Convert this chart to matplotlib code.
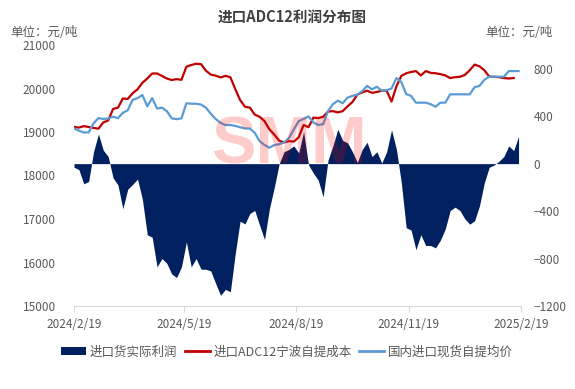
import matplotlib
matplotlib.use("Agg")
import matplotlib.pyplot as plt
import matplotlib.dates as mdates
from matplotlib.patches import Patch
from matplotlib.lines import Line2D
import numpy as np
import pandas as pd

plt.rcParams['font.family'] = ['Noto Sans CJK SC', 'DejaVu Sans']

dates = pd.date_range('2024-02-19', periods=92, freq='4D')

profit = [-30, -50, -170, -150, 100, 250, 113, 60, -120, -180,
          -380, -215, -175, -130, -300, -600, -620, -870, -800, -840,
          -930, -960, -870, -660, -870, -800, -890, -890, -905, -1010,
          -1110, -1060, -1080, -760, -485, -508, -420, -395, -520, -640,
          -380, -200, 0, 100, 120, 150, 90, 270, -10, -80,
          -140, -280, 30, 150, 290, 195, 175, 100, 10, 120,
          180, 60, 100, 5, 100, 285, 120, -160, -540, -560,
          -725, -600, -690, -690, -710, -645, -550, -395, -367, -395,
          -465, -510, -482, -355, -160, -30, -12, 20, 60, 150,
          110, 230]

cost = [19120, 19100, 19135, 19115, 19095, 19075, 19220, 19265, 19530, 19560,
        19770, 19760, 19890, 19980, 20130, 20230, 20345, 20345, 20290, 20230,
        20195, 20215, 20200, 20500, 20540, 20570, 20560, 20410, 20320, 20295,
        20255, 20290, 20260, 19990, 19735, 19580, 19560, 19400, 19350, 19250,
        19060, 18940, 18800, 18760, 18790, 18780, 18880, 19160, 19110, 19330,
        19320, 19350, 19470, 19480, 19450, 19480, 19590, 19690, 19860, 19910,
        19950, 19900, 19920, 19950, 19950, 19700, 20050, 20290, 20350, 20380,
        20400, 20300, 20400, 20360, 20350, 20330, 20300, 20240, 20260, 20270,
        20310, 20420, 20550, 20510, 20420, 20272, 20270, 20260, 20240, 20230,
        20240, np.nan]

spot = [19085, 19030, 18990, 18990, 19200, 19320, 19300, 19310, 19350, 19320,
        19440, 19500, 19740, 19780, 19850, 19590, 19780, 19540, 19560, 19480,
        19314, 19295, 19314, 19660, 19650, 19650, 19630, 19560, 19420, 19300,
        19210, 19160, 19160, 19140, 19110, 19080, 19080, 18980, 18790, 18700,
        18640, 18700, 18720, 18760, 18860, 19060, 19250, 19300, 19360, 19220,
        19160, 19180, 19480, 19640, 19720, 19660, 19790, 19830, 19860, 19940,
        20060, 19980, 20040, 19950, 19960, 20000, 20240, 20150, 19870, 19830,
        19674, 19674, 19674, 19640, 19582, 19674, 19674, 19866, 19866, 19866,
        19866, 19866, 20030, 20060, 20200, 20272, 20272, 20272, 20272, 20400,
        20400, 20400]

xtick_dates = ['2024-02-19', '2024-05-19', '2024-08-19', '2024-11-19', '2025-02-19']
xtick_labels = ['2024/2/19', '2024/5/19', '2024/8/19', '2024/11/19', '2025/2/19']
left_ticks = [15000, 16000, 17000, 18000, 19000, 20000, 21000]
right_ticks = [-1200, -800, -400, 0, 400, 800]

series_names = ['进口货实际利润', '进口ADC12宁波自提成本', '国内进口现货自提均价']
title = '进口ADC12利润分布图'
unit = '单位：元/吨'

c_area = '#002060'
c_red = '#C00000'
c_blue = '#5B9BD5'
c_text = '#595959'

fig = plt.figure(figsize=(5.75, 3.89), dpi=100)
ax = fig.add_axes([74/575, 1-306/389, (521-74)/575, (306-45)/389])
ax2 = ax.twinx()

ax2.fill_between(dates, 0, profit, color=c_area, linewidth=0)
ax.plot(dates, cost, color=c_red, lw=1.6)
ax.plot(dates, spot, color=c_blue, lw=1.6)

ax.set_zorder(ax2.get_zorder() + 1)
ax.patch.set_visible(False)

ax.set_ylim(15000, 21000)
ax2.set_ylim(-1200, 1000)
ax.set_yticks(left_ticks)
ax2.set_yticks(right_ticks)
ax.set_xlim(pd.Timestamp('2024-02-19'), pd.Timestamp('2025-02-19'))
ax.set_xticks([pd.Timestamp(d) for d in xtick_dates])
ax.set_xticklabels(xtick_labels)

for a in (ax, ax2):
    for s in ('top', 'left', 'right'):
        a.spines[s].set_visible(False)
    a.spines['bottom'].set_color('#D9D9D9')
ax2.spines['bottom'].set_visible(False)

ax.tick_params(axis='y', length=0, pad=13, labelsize=8.5, labelcolor=c_text)
ax2.tick_params(axis='y', length=0, pad=9, labelsize=8.5, labelcolor=c_text)
ax.tick_params(axis='x', length=4, color='#D9D9D9', pad=5, labelsize=8.5, labelcolor=c_text)

fig.text(292/575, 1-18/389, title, ha='center', va='center', fontsize=10.5,
         fontweight='bold', color='#404040')
fig.text(10/575, 1-33/389, unit, ha='left', va='center', fontsize=9, color=c_text)
fig.text(553/575, 1-33/389, unit, ha='right', va='center', fontsize=9, color=c_text)

fig.text(289/575, 1-164/389, 'SMM', ha='center', va='baseline', fontsize=48,
         fontweight='bold', family='Liberation Sans', color='red', alpha=0.2, zorder=10)

handles = [Patch(facecolor=c_area, edgecolor='none'),
           Line2D([], [], color=c_red, lw=2),
           Line2D([], [], color=c_blue, lw=2)]
fig.legend(handles, series_names, loc='center', bbox_to_anchor=(287/575, 1-352/389),
           ncol=3, frameon=False, fontsize=9, handlelength=2.0, handleheight=0.6,
           columnspacing=0.6, handletextpad=0.3, labelcolor=c_text)

fig.savefig('out.png', dpi=100)
